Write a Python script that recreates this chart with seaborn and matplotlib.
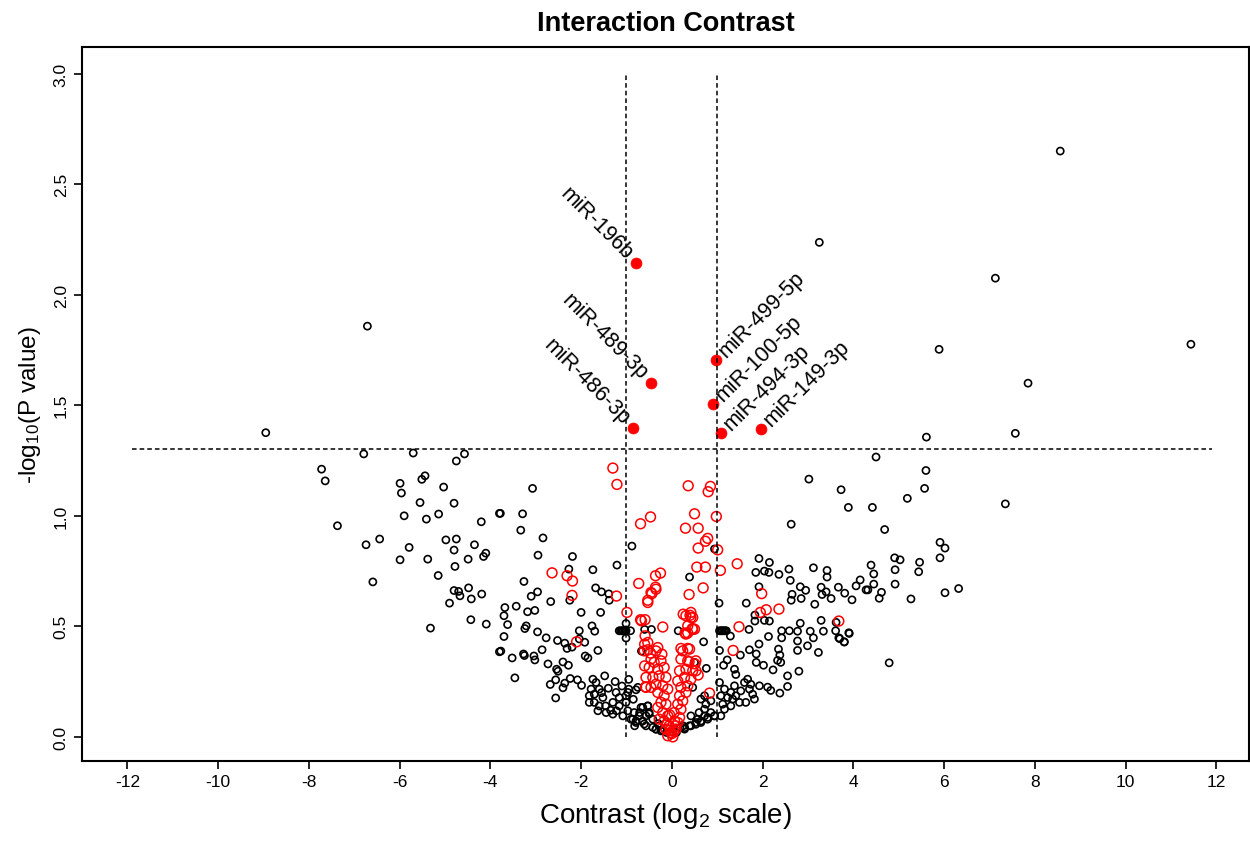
import matplotlib
matplotlib.use("Agg")
import matplotlib.pyplot as plt
import seaborn as sns

# non-significant / other miRNAs (black open circles)
black_x = [
    -8.95, -6.71, -6.79, -5.70, -4.57, -4.75, -7.72, -7.64, -5.99, -5.96, -5.44, -5.51, -5.03, -5.55,
    -4.80, -5.90, -5.41, -5.14, -4.20, -7.37, -6.74, -6.44, -5.79, -5.99, -5.38, -4.98, -4.75, -4.80,
    -4.35, -4.49, -4.10, -4.15, -4.78, -5.15, -6.59, -4.80, -4.70, -4.67, -4.48, -4.42, -4.19, -4.90,
    -4.43, -4.09, -5.32, -3.80, -3.80,
    -3.07, -3.78, -3.29, -3.33, -2.84, -2.95, -2.19, -2.27, -1.74, -1.21, -0.88, -3.26, -2.96, -3.10,
    -2.67, -2.25, -3.68, -3.43, -3.18, -3.02, -2.00, -1.68, -1.55, -1.39, -1.38, -1.57, -3.70, -3.62,
    -3.21, -3.24, -2.96, -3.70, -3.77, -3.52, -3.27, -3.25, -3.04, -3.02, -2.86, -2.77, -2.52, -2.36,
    -2.31, -2.20, -2.04, -2.04, -1.92, -1.76, -1.70, -1.63, -1.91, -1.85, -2.73, -2.54, -2.51, -2.40,
    -2.28, -3.46, -2.68, -2.56, -2.40, -2.36, -2.24, -2.08, -1.99, -2.56, -1.48,
    -1.16, -1.13, -1.10, -1.07, -1.04, -1.01, -1.01, -0.91, -1.01, -0.67, -0.60, -0.45, 0.14,
    -1.74, -1.67, -1.78, -1.71, -1.60, -1.52, -1.82, -1.71, -1.60, -1.46, -1.30, -1.23, -1.16, -1.01,
    -0.95, -0.79, -1.01, -0.97, -1.08, -1.30, -1.22, -0.86, -0.79, -0.64, -0.57, -0.72, -0.50, -0.42,
    -0.35, -0.28, -1.82, -1.63, -1.45, -1.16, -0.83, -0.68, -0.57, -0.53,
    -1.25, -1.40, -1.55, -1.35, -1.10, -0.95, -0.85, -0.75, -0.97, -0.64, -0.53, -0.71, -0.50,
    -0.90, -0.79, -0.82, -0.61, -0.42, -0.35, -0.24, -0.20, -0.12, 0.10, 0.18, -0.30, 0.25,
    0.28, 0.39, 0.53, 0.64, 0.79, 0.94, 0.42, 0.60, 0.72, 0.50, 0.46, 0.64, 0.72, 0.75, 0.86,
    1.05, 1.16, 1.08, 1.23, 1.30, 1.38, 1.41, 1.52, 1.60, 1.67, 1.74, 1.82, 1.63, 1.49, 1.30, 1.16,
    1.08, 0.94, 0.79, 0.64, 0.53, 0.42, 0.28, 0.86, 0.72, 0.57, 1.12, 1.34, 1.71, 1.78,
    3.02, 2.63, 1.92, 2.15, 1.85, 2.04, 2.14, 2.36, 2.58, 2.61, 3.12, 3.42, 3.42, 2.83, 2.95, 3.29,
    3.40, 3.31, 3.51, 3.67, 1.92, 2.65, 2.63, 2.85, 3.15, 1.64, 1.04, 0.39, 1.83, 1.83, 2.04, 2.15,
    2.83, 3.29, 3.62, 1.05, 1.08, 1.11, 1.14, 1.17, 1.20, 1.70, 2.42, 2.42, 2.59, 2.77, 3.05, 3.34,
    3.61, 3.90, 2.13, 1.92, 2.77, 3.12, 2.99, 2.77, 3.23, 3.68, 3.80, 1.29, 0.70, 1.05, 1.22, 1.14,
    1.71, 1.86, 1.51, 2.35, 2.38, 2.33, 1.86, 2.02, 2.40, 1.38, 1.41, 2.23, 2.55, 2.80, 2.55, 2.38,
    1.93, 2.11, 2.18, 0.76, 0.94,
    3.25, 8.56, 7.13, 11.44, 5.89, 7.85, 5.61, 7.57, 4.50, 5.60, 5.57, 5.19, 7.35, 3.73, 3.89, 4.42,
    4.69, 5.91, 6.02, 5.91, 4.91, 5.03, 5.46, 5.44, 4.92, 4.92, 4.39, 4.45, 4.45, 6.02, 6.32, 5.27,
    4.15, 4.06, 4.28, 4.32, 4.62, 4.57, 3.97, 3.81, 3.91, 3.80, 3.70, 4.79,
]
black_y = [
    1.376, 1.858, 1.280, 1.284, 1.280, 1.248, 1.211, 1.158, 1.147, 1.103, 1.181, 1.165, 1.130, 1.060,
    1.057, 1.000, 0.985, 1.008, 0.973, 0.955, 0.869, 0.895, 0.857, 0.801, 0.804, 0.891, 0.895, 0.845,
    0.869, 0.804, 0.831, 0.816, 0.771, 0.730, 0.701, 0.662, 0.658, 0.638, 0.674, 0.624, 0.646, 0.605,
    0.530, 0.510, 0.492, 1.011, 0.385,
    1.124, 1.011, 1.009, 0.935, 0.900, 0.822, 0.816, 0.759, 0.756, 0.777, 0.863, 0.703, 0.656, 0.636,
    0.612, 0.618, 0.585, 0.591, 0.566, 0.572, 0.563, 0.674, 0.656, 0.647, 0.618, 0.563, 0.548, 0.508,
    0.502, 0.490, 0.475, 0.454, 0.388, 0.357, 0.375, 0.368, 0.366, 0.348, 0.394, 0.448, 0.436, 0.424,
    0.400, 0.406, 0.480, 0.443, 0.428, 0.502, 0.478, 0.391, 0.366, 0.357, 0.330, 0.306, 0.297, 0.339,
    0.324, 0.267, 0.237, 0.258, 0.222, 0.243, 0.264, 0.258, 0.233, 0.176, 0.276,
    0.480, 0.480, 0.480, 0.480, 0.480, 0.480, 0.447, 0.480, 0.513, 0.388, 0.486, 0.486, 0.480,
    0.261, 0.246, 0.216, 0.193, 0.216, 0.178, 0.186, 0.156, 0.140, 0.140, 0.156, 0.201, 0.178, 0.186,
    0.216, 0.213, 0.156, 0.118, 0.095, 0.103, 0.118, 0.080, 0.065, 0.072, 0.050, 0.095, 0.110, 0.080,
    0.035, 0.050, 0.156, 0.118, 0.110, 0.140, 0.110, 0.133, 0.095, 0.140,
    0.250, 0.220, 0.200, 0.120, 0.230, 0.260, 0.170, 0.224, 0.201, 0.133, 0.140, 0.110, 0.104,
    0.080, 0.072, 0.050, 0.058, 0.043, 0.035, 0.027, 0.030, 0.020, 0.020, 0.040, 0.060, 0.050,
    0.035, 0.050, 0.065, 0.072, 0.088, 0.095, 0.095, 0.110, 0.125, 0.337, 0.224, 0.171, 0.186, 0.148, 0.163,
    0.246, 0.216, 0.186, 0.178, 0.201, 0.231, 0.186, 0.208, 0.246, 0.261, 0.238, 0.171, 0.156, 0.156,
    0.140, 0.125, 0.095, 0.095, 0.080, 0.065, 0.057, 0.050, 0.042, 0.110, 0.095, 0.080, 0.148, 0.171,
    0.216, 0.193,
    1.166, 0.962, 0.807, 0.789, 0.744, 0.750, 0.744, 0.735, 0.759, 0.708, 0.765, 0.753, 0.723, 0.679,
    0.663, 0.677, 0.656, 0.644, 0.626, 0.677, 0.679, 0.645, 0.618, 0.626, 0.600, 0.605, 0.605, 0.723,
    0.551, 0.524, 0.527, 0.524, 0.514, 0.527, 0.518, 0.480, 0.480, 0.480, 0.480, 0.480, 0.480, 0.486,
    0.480, 0.448, 0.480, 0.478, 0.478, 0.478, 0.480, 0.471, 0.454, 0.420, 0.434, 0.448, 0.412, 0.391,
    0.382, 0.448, 0.430, 0.456, 0.430, 0.391, 0.348, 0.324, 0.394, 0.375, 0.370, 0.397, 0.370, 0.346,
    0.337, 0.324, 0.337, 0.306, 0.282, 0.303, 0.276, 0.297, 0.228, 0.198, 0.231, 0.225, 0.210, 0.310,
    0.850,
    2.237, 2.650, 2.075, 1.776, 1.753, 1.600, 1.356, 1.373, 1.266, 1.205, 1.124, 1.079, 1.054, 1.118,
    1.038, 1.038, 0.938, 0.880, 0.854, 0.810, 0.810, 0.801, 0.790, 0.747, 0.756, 0.691, 0.777, 0.737,
    0.691, 0.652, 0.671, 0.624, 0.710, 0.683, 0.665, 0.665, 0.654, 0.627, 0.620, 0.650, 0.468, 0.429,
    0.444, 0.335,
]

# small-fold miRNAs (red open circles)
red_x = [
    -1.30, -1.21, -0.69, -0.47, -2.64, -2.31, -2.19, -2.20, -2.10, -1.22, -0.99, -0.73, -0.36, -0.25,
    -0.36, -0.44, -0.53, -0.69, -0.59, -0.20, -0.60, -0.53, -0.47, -0.60, -0.58,
    0.36, 0.85, 0.80, 0.50, 0.98, 0.30, 0.58, 0.79, 0.74, 0.58, 1.01, 0.55, 0.74, 1.07, 1.44, 0.69,
    0.38, 1.98, 1.95, 2.08, 2.36, 3.68, 1.48, 1.35, 0.83, 0.40, 0.42, 0.45, 0.35, 0.29, 0.35, 0.20,
    0.38, 0.51, 0.58,
    -0.53, -0.46, -0.35, 0.31, 0.42, 0.46, 0.35, 0.50, -0.59, -0.53, -0.61, -0.35, -0.31, -0.22,
    -0.46, -0.39, -0.24, -0.50, -0.31, -0.17, -0.57, -0.42, -0.28, -0.13, -0.35, -0.20, -0.46, -0.09,
    -0.31, -0.17, -0.24, -0.13, -0.31, -0.57, -0.20, -0.09, -0.17, -0.06, -0.02, 0.02, 0.09, 0.13,
    0.06, 0.17, 0.20, 0.13, 0.24, 0.17, 0.31, 0.20, 0.35, 0.13, 0.28, 0.42, 0.17, 0.31, 0.46, 0.20,
    0.35, 0.24, 0.39, 0.53, 0.53, -0.28, -0.13, -0.09, 0.25, 0.31, 0.46, -0.67,
    -0.04, 0.00, 0.04, -0.11, 0.08, -0.05, 0.05,
]
red_y = [
    1.216, 1.142, 0.964, 0.995, 0.742, 0.729, 0.705, 0.640, 0.430, 0.637, 0.563, 0.694, 0.729, 0.741,
    0.677, 0.648, 0.618, 0.530, 0.530, 0.497, 0.419, 0.394, 0.379, 0.321, 0.226,
    1.136, 1.133, 1.109, 1.009, 0.997, 0.944, 0.944, 0.898, 0.885, 0.854, 0.846, 0.768, 0.768, 0.753,
    0.783, 0.674, 0.644, 0.648, 0.563, 0.575, 0.578, 0.524, 0.498, 0.391, 0.198, 0.550, 0.540, 0.490,
    0.470, 0.470, 0.400, 0.400, 0.340, 0.330, 0.280,
    0.608, 0.653, 0.668, 0.548, 0.563, 0.540, 0.502, 0.487, 0.457, 0.427, 0.389, 0.389, 0.404, 0.374,
    0.352, 0.337, 0.344, 0.314, 0.306, 0.314, 0.269, 0.269, 0.276, 0.269, 0.238, 0.231, 0.224, 0.216,
    0.201, 0.186, 0.156, 0.148, 0.133, 0.224, 0.110, 0.095, 0.072, 0.050, 0.020, 0.000, 0.035, 0.065,
    0.072, 0.088, 0.125, 0.148, 0.163, 0.186, 0.201, 0.224, 0.231, 0.253, 0.269, 0.261, 0.299, 0.306,
    0.299, 0.352, 0.344, 0.389, 0.397, 0.344, 0.299, 0.080, 0.035, 0.005, 0.555, 0.465, 0.487, 0.525,
    0.030, 0.015, 0.025, 0.060, 0.050, 0.100, 0.110,
]

# significant, labelled miRNAs (filled red)
sig_names = ["miR-196b", "miR-489-3p", "miR-486-3p", "miR-499-5p", "miR-100-5p", "miR-494-3p", "miR-149-3p"]
sig_x = [-0.78, -0.45, -0.85, 0.98, 0.91, 1.09, 1.97]
sig_y = [2.143, 1.600, 1.397, 1.704, 1.505, 1.373, 1.392]

p_cut = 1.301
fc_cut = 1.0

sns.set_theme(style="ticks")
plt.rcParams["font.family"] = ["Liberation Sans", "DejaVu Sans"]
plt.rcParams["mathtext.default"] = "regular"
plt.rcParams["axes.unicode_minus"] = False
plt.rcParams["text.color"] = "black"
plt.rcParams["axes.labelcolor"] = "black"
plt.rcParams["xtick.color"] = "black"
plt.rcParams["ytick.color"] = "black"

fig = plt.figure(figsize=(12.5, 8.45), dpi=100)
ax = fig.add_axes([0.0656, 0.098, 0.9336, 0.845])

sns.scatterplot(x=black_x, y=black_y, ax=ax, marker="o", s=26,
                facecolor="none", edgecolor="black", linewidth=1.2)
sns.scatterplot(x=red_x, y=red_y, ax=ax, marker="o", s=50,
                facecolor="none", edgecolor="red", linewidth=1.1)
sns.scatterplot(x=sig_x, y=sig_y, ax=ax, marker="o", s=62,
                color="red", edgecolor="red", linewidth=0.5)

for name, x, y in zip(sig_names, sig_x, sig_y):
    if x < 0:
        ax.annotate(name, (x, y), xytext=(-5, 5), textcoords="offset points",
                    rotation=-45, ha="right", va="center", rotation_mode="anchor", fontsize=15.5)
    else:
        ax.annotate(name, (x, y), xytext=(4, 5), textcoords="offset points",
                    rotation=45, ha="left", va="center", rotation_mode="anchor", fontsize=15.5)

ax.plot([-11.9, 11.9], [p_cut, p_cut], color="black", linestyle=(0, (3, 2)), linewidth=1.1)
ax.plot([-fc_cut, -fc_cut], [0, 3], color="black", linestyle=(0, (3, 2)), linewidth=1.1)
ax.plot([fc_cut, fc_cut], [0, 3], color="black", linestyle=(0, (3, 2)), linewidth=1.1)

ax.set_xlim(-13.0, 12.72)
ax.set_ylim(-0.11, 3.12)
ax.set_xticks(range(-12, 13, 2))
ax.set_yticks([0.0, 0.5, 1.0, 1.5, 2.0, 2.5, 3.0])
ax.set_yticklabels(["0.0", "0.5", "1.0", "1.5", "2.0", "2.5", "3.0"], rotation=90, va="center")
ax.tick_params(axis="both", labelsize=12.5, length=6, width=1.2, color="black")

for sp in ax.spines.values():
    sp.set_color("black")
    sp.set_linewidth(1.5)

ax.set_xlabel("Contrast (log$_2$ scale)", fontsize=20, labelpad=8)
ax.set_ylabel("-log$_{10}$(P value)", fontsize=17.5, labelpad=8)
ax.set_title("Interaction Contrast", fontsize=19.5, fontweight="bold", pad=12)

fig.savefig("out.png", dpi=100)
